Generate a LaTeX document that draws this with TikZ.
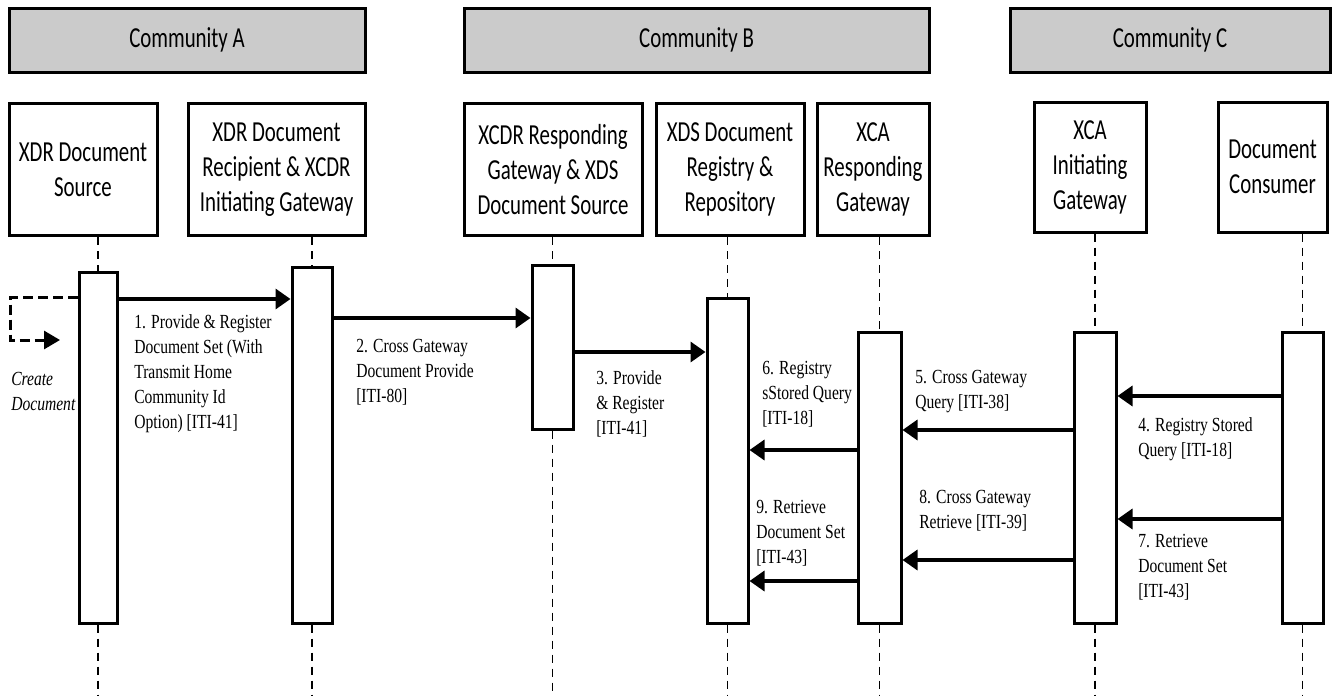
\documentclass[tikz,border=0pt]{standalone}
\usepackage{fontspec}
\setmainfont{Liberation Serif}[FakeStretch=0.78]
\newfontfamily\calibfont{Carlito}[FakeStretch=0.72]
\usetikzlibrary{arrows.meta}
\definecolor{hdrgray}{RGB}{203,203,203}

\begin{document}
\begin{tikzpicture}[x=0.75pt,y=-0.75pt,
        hdr/.style={draw, line width=2.25pt, fill=hdrgray, minimum height=48pt,
                        inner sep=0pt, font=\calibfont\fontsize{21.75}{26.25}\selectfont},
        part/.style={draw, line width=2.25pt, fill=white, align=center, inner sep=0pt,
                        font=\calibfont\fontsize{21.75}{26.25}\selectfont},
        act/.style={draw, line width=2.25pt, fill=white, minimum width=30.75pt, inner sep=0pt},
        life/.style={line width=0.9pt, dash pattern=on 6pt off 4.5pt},
        msg/.style={line width=2.6pt, -{Triangle[length=11.25pt,width=15pt]}},
        lbl/.style={anchor=north west, align=left, inner sep=0pt,
                        font=\fontsize{15}{18.75}\selectfont}]
    \useasboundingbox (0,0) rectangle (1337,696);

    % communities
    \node[hdr, minimum width=267pt] (hA) at (187,40) {Community A};
    \node[hdr, minimum width=348.75pt] (hB) at (696.5,40) {Community B};
    \node[hdr, minimum width=240pt] (hC) at (1170,40) {Community C};

    % actors
    \node[part, minimum width=111pt, minimum height=99pt] (p1) at (83,169.5) {XDR Document\\Source};
    \node[part, minimum width=132.75pt, minimum height=99pt] (p2) at (276.5,169.5) {XDR Document\\Recipient \& XCDR\\Initiating Gateway};
    \node[part, minimum width=133.5pt, minimum height=99pt] (p3) at (553,169.5) {XCDR Responding\\Gateway \& XDS\\Document Source};
    \node[part, minimum width=111pt, minimum height=99pt] (p4) at (730,169.5) {XDS Document\\Registry \&\\Repository};
    \node[part, minimum width=84pt, minimum height=99pt] (p5) at (873,169.5) {XCA\\Responding\\Gateway};
    \node[part, minimum width=84pt, minimum height=97.5pt] (p6) at (1090,167) {XCA\\Initiating\\Gateway};
    \node[part, minimum width=81.75pt, minimum height=97.5pt] (p7) at (1272.5,167) {Document\\Consumer};

    % activation bars
    \node[act, minimum width=28.5pt, minimum height=263.25pt] (a1) at (98,447.5) {};
    \node[act, minimum width=30pt, minimum height=267pt] (a2) at (312,445) {};
    \node[act, minimum height=123pt] (a3) at (552.5,347) {};
    \node[act, minimum height=243.75pt] (a4) at (727.5,460.5) {};
    \node[act, minimum width=32.25pt, minimum height=218.25pt] (a5) at (879.5,477.5) {};
    \node[act, minimum width=31.5pt, minimum height=218.25pt] (a6) at (1095,477.5) {};
    \node[act, minimum height=218.25pt] (a7) at (1302.5,477.5) {};

    \foreach \i in {1,...,7} {
        \draw[life] (a\i.north |- p\i.south) -- (a\i.north);
        \draw[life] (a\i.south) -- (a\i.south |- 0,696);
    }

    % create document
    \coordinate (cdtip) at (60,340);
    \draw[line width=2.25pt, dash pattern=on 7.5pt off 3.75pt,
          -{Triangle[length=12pt,width=13.5pt]}]
        (a1.west |- 0,297) -- (10,297) |- (cdtip);
    \node[lbl, font=\fontsize{15}{18.75}\selectfont\itshape] (cd) at (11,372) {Create\\Document};

    % messages
    \draw[msg] (a1.east |- 0,299) -- (a2.west |- 0,299);
    \draw[msg] (a2.east |- 0,318) -- (a3.west |- 0,318);
    \draw[msg] (a3.east |- 0,352) -- (a4.west |- 0,352);
    \draw[msg] (a7.west |- 0,396) -- (a6.east |- 0,396);
    \draw[msg] (a6.west |- 0,430) -- (a5.east |- 0,430);
    \draw[msg] (a5.west |- 0,450) -- (a4.east |- 0,450);
    \draw[msg] (a7.west |- 0,519) -- (a6.east |- 0,519);
    \draw[msg] (a6.west |- 0,560) -- (a5.east |- 0,560);
    \draw[msg] (a5.west |- 0,581) -- (a4.east |- 0,581);

    \node[lbl] (m1) at (134,314) {1. Provide \& Register\\Document Set (With\\Transmit Home\\Community Id\\Option) [ITI-41]};
    \node[lbl] (m2) at (356,339) {2. Cross Gateway\\Document Provide\\{[ITI-80]}};
    \node[lbl] (m3) at (596,370) {3. Provide\\\& Register\\{[ITI-41]}};
    \node[lbl] (m4) at (1138,417) {4. Registry Stored\\Query [ITI-18]};
    \node[lbl] (m5) at (915,370) {5. Cross Gateway\\Query [ITI-38]};
    \node[lbl] (m6) at (762,361) {6. Registry\\sStored Query\\{[ITI-18]}};
    \node[lbl] (m7) at (1138,534) {7. Retrieve\\Document Set\\{[ITI-43]}};
    \node[lbl] (m8) at (919,490) {8. Cross Gateway\\Retrieve [ITI-39]};
    \node[lbl] (m9) at (756,500) {9. Retrieve\\Document Set\\{[ITI-43]}};
\end{tikzpicture}
\end{document}
